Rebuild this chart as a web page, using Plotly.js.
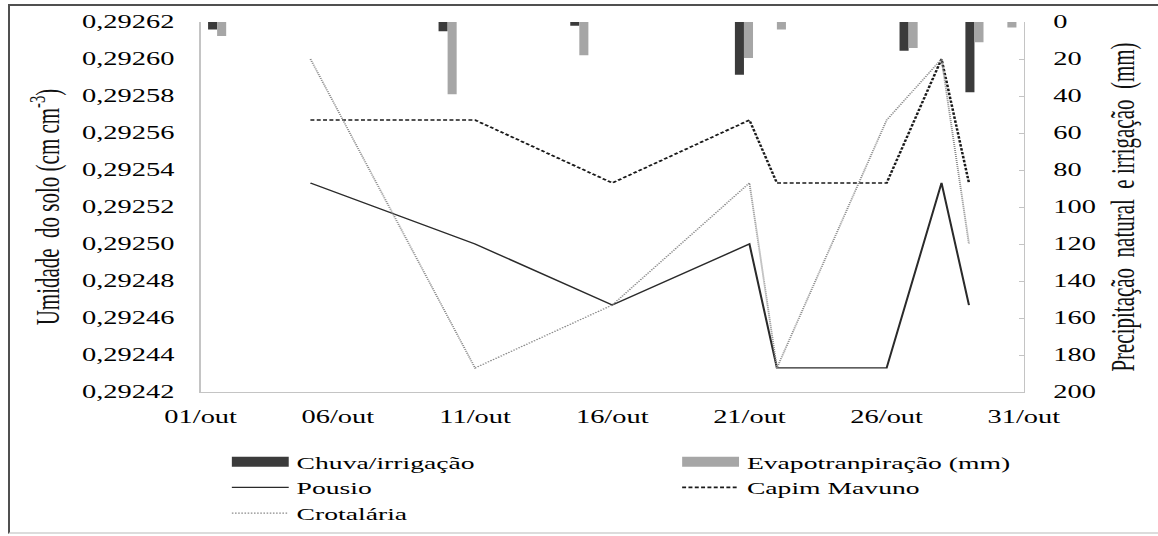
<!DOCTYPE html>
<html><head><meta charset="utf-8">
<script src="https://cdn.plot.ly/plotly-3.0.1.min.js"></script>
<style>
html,body{margin:0;padding:0;background:#fff;overflow:hidden;width:1158px;height:536px}
#frame{position:absolute;left:8px;top:4px;width:1150px;height:530px;border-top:2px solid #505050;border-left:2px solid #505050;border-bottom:2px solid #dcdcdc;box-sizing:border-box}
#chart{position:absolute;left:0;top:0;width:733px;height:536px;transform:scaleX(1.58);transform-origin:0 0}
</style></head><body>
<div id="frame"></div><div id="chart"></div>
<script>
// Soil moisture series (cm cm-3), by day of October
const lineDays = [5, 11, 16, 21, 22, 26, 28, 29];
const pousio = [0.292533, 0.2925, 0.292467, 0.2925, 0.292433, 0.292433, 0.292533, 0.292467];
const capimMavuno = [0.292567, 0.292567, 0.292533, 0.292567, 0.292533, 0.292533, 0.2926, 0.292533];
const crotalaria = [0.2926, 0.292433, 0.292467, 0.292533, 0.292433, 0.292567, 0.2926, 0.2925];
// Rain/irrigation and evapotranspiration (mm), on the bars' own 25-slot axis
const barDays = [1, 8, 12, 17, 18, 22, 24, 25];
const chuva = [4, 5, 2, 28.5, 0, 15.5, 38, 0];
const evapo = [7.5, 39, 18, 19.5, 4, 14, 11, 3];
// Tick labels
const xTickVals = [1, 6, 11, 16, 21, 26, 31];
const xTickText = ['01/out', '06/out', '11/out', '16/out', '21/out', '26/out', '31/out'];

const FONT = "'Liberation Serif', 'Times New Roman', serif";
const DARK = '#3b3b3b', LIGHT = '#a6a6a6';

const traces = [
  {x: [null], y: [null], mode: 'lines', name: 'Chuva/irrigação', line: {color: DARK, width: 11}, xaxis: 'x', yaxis: 'y', hoverinfo: 'skip'},
  {x: [null], y: [null], mode: 'lines', name: 'Evapotranpiração (mm)', line: {color: LIGHT, width: 11}, xaxis: 'x', yaxis: 'y', hoverinfo: 'skip'},
  {x: lineDays, y: pousio, mode: 'lines', name: 'Pousio', line: {color: '#2a2a2a', width: 1.3}},
  {x: lineDays, y: capimMavuno, mode: 'lines', name: 'Capim Mavuno', line: {color: '#1a1a1a', width: 1.6, dash: '2.5px,1.5px'}},
  {x: lineDays, y: crotalaria, mode: 'lines', name: 'Crotalária', line: {color: '#8a8a8a', width: 1.2, dash: '1px,1px'}},
  {x: barDays, y: chuva, type: 'bar', name: 'Chuva/irrigação', marker: {color: DARK}, xaxis: 'x2', yaxis: 'y2', showlegend: false},
  {x: barDays, y: evapo, type: 'bar', name: 'Evapotranpiração (mm)', marker: {color: LIGHT}, xaxis: 'x2', yaxis: 'y2', showlegend: false}
];

const layout = {
  width: 733, height: 536,
  margin: {l: 127, r: 85, t: 22, b: 144, autoexpand: false},
  paper_bgcolor: 'rgba(0,0,0,0)', plot_bgcolor: 'rgba(0,0,0,0)',
  font: {family: FONT, size: 18, color: '#000'},
  separators: ',.',
  barmode: 'group', bargap: 0.45, bargroupgap: 0,
  showlegend: true,
  legend: {orientation: 'h', x: -0.0005, xanchor: 'left', y: -0.14, yanchor: 'top',
           indentation: 15, itemwidth: 36,
           entrywidth: 219, entrywidthmode: 'pixels', traceorder: 'normal', borderwidth: 0,
           font: {family: FONT, size: 17.5, color: '#000'}, bgcolor: 'rgba(0,0,0,0)'},
  xaxis: {range: [1, 31], tickvals: xTickVals, ticktext: xTickText, showline: true, linecolor: '#c4c4c4', linewidth: 1,
          showgrid: false, zeroline: false, ticks: '', ticklabelstandoff: 8, fixedrange: true},
  xaxis2: {range: [0.5, 25.5], overlaying: 'x', visible: false, fixedrange: true},
  yaxis: {range: [0.29242, 0.29262], dtick: 0.00002, tick0: 0.29242, tickformat: '.5f', showline: true, linecolor: '#c4c4c4',
          linewidth: 1, showgrid: false, zeroline: false, ticks: '', ticklabelstandoff: 12,
          title: {text: 'Umidade\u00a0\u00a0do solo (cm cm<sup>-3</sup>)', font: {family: FONT, size: 21, color: '#111'}, standoff: 8}},
  yaxis2: {range: [200, 0], dtick: 20, overlaying: 'y', side: 'right', anchor: 'x', showline: true, linecolor: '#c4c4c4',
           linewidth: 1, showgrid: false, zeroline: false, ticks: 'inside', ticklen: 3, tickcolor: '#c4c4c4', ticklabelstandoff: 14,
           title: {text: 'Precipitação\u00a0\u00a0natural\u00a0\u00a0e irrigação\u00a0\u00a0(mm)', font: {family: FONT, size: 21, color: '#111'}, standoff: 10}}
};

Plotly.newPlot('chart', traces, layout, {displayModeBar: false, staticPlot: true});
</script></body></html>
